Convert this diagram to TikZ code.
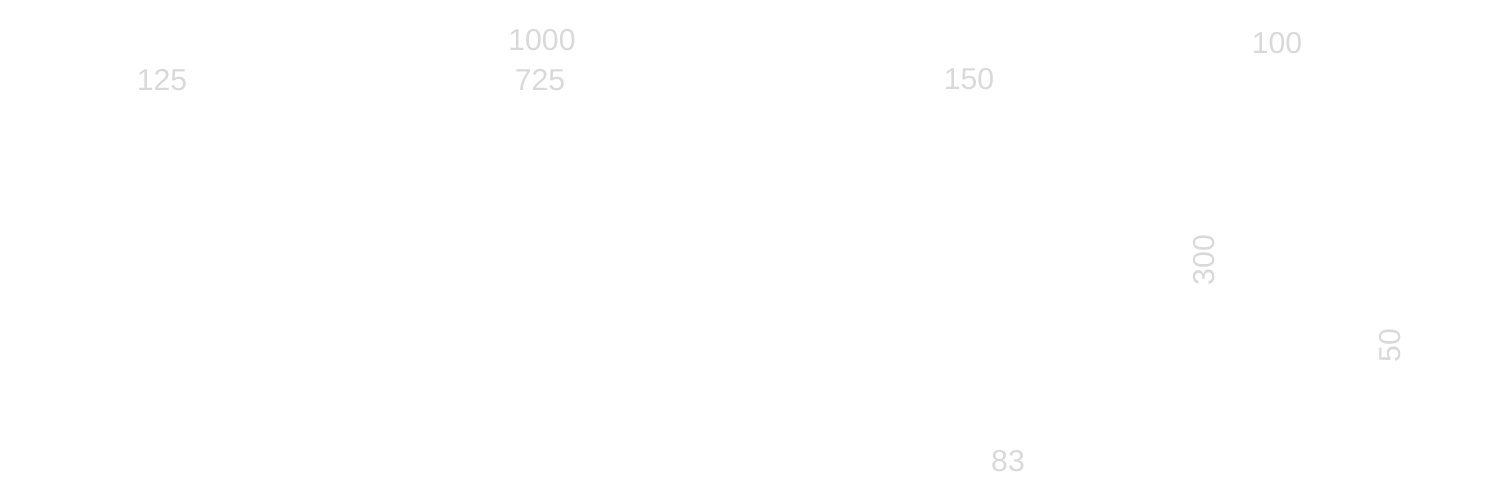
\documentclass[tikz,border=0pt]{standalone}
\usepackage{fontspec}
\setmainfont{Liberation Sans}
\usetikzlibrary{positioning}
\definecolor{dimgray}{HTML}{D9D9D9}
\begin{document}
\begin{tikzpicture}[dim/.style={text=dimgray, font=\fontsize{8.6}{10}\selectfont, inner sep=0pt}]
	\useasboundingbox (0,0) rectangle (15,5);

	\node[dim] (a) at (1.62,4.20) {125};
	\node[dim] (b) at (5.42,4.60) {1000};
	\node[dim] (c) at (5.40,4.20) {725};
	\node[dim] (d) at (9.69,4.21) {150};
	\node[dim] (e) at (12.77,4.57) {100};
	\node[dim, rotate=90] (f) at (12.04,2.40) {300};
	\node[dim, rotate=90] (g) at (13.90,1.54) {50};
	\node[dim] (h) at (10.08,0.39) {83};
\end{tikzpicture}
\end{document}
